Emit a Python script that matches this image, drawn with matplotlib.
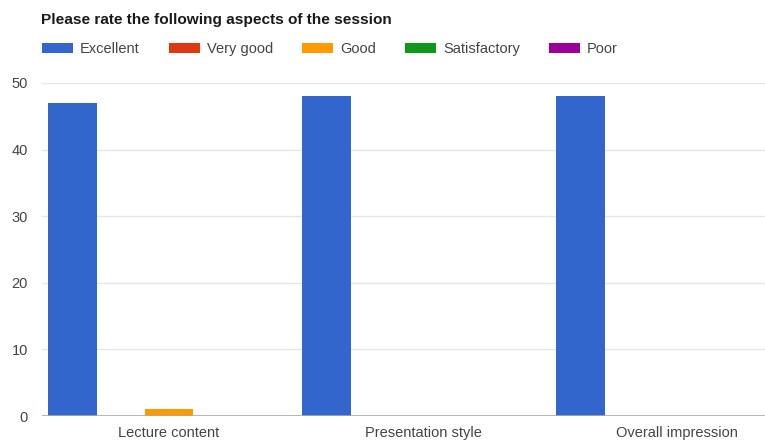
import numpy as np
import matplotlib.pyplot as plt

plt.rcParams['font.family'] = ['Liberation Sans', 'DejaVu Sans']

# Survey results
aspects = ['Lecture content', 'Presentation style', 'Overall impression']
ratings = ['Excellent', 'Very good', 'Good', 'Satisfactory', 'Poor']
excellent = [47, 48, 48]
very_good = [0, 0, 0]
good = [1, 0, 0]
satisfactory = [0, 0, 0]
poor = [0, 0, 0]
yticks = [0, 10, 20, 30, 40, 50]

series = [excellent, very_good, good, satisfactory, poor]
colors = ['#3366cc', '#dc3912', '#ff9900', '#109618', '#990099']

W, H = 765, 444
fig = plt.figure(figsize=(W / 100, H / 100), dpi=100)
ax = fig.add_axes([42 / W, (H - 416) / H, (W - 42) / W, (416 - 83) / H])

x = np.arange(len(aspects))
bw = 0.19
for i, (vals, col, name) in enumerate(zip(series, colors, ratings)):
    ax.bar(x + (i - 2) * bw, vals, width=bw, color=col, label=name, zorder=3)

ax.set_xlim(-0.5, (765 - 169) / 254)
ax.set_ylim(0, 50)
ax.set_yticks(yticks)
ax.set_xticks(x)
ax.set_xticklabels(aspects, fontsize=11)
ax.grid(axis='y', color='#e6e6e6', linewidth=1, zorder=0)
ax.axhline(0, color='#aaaaaa', linewidth=1.2, zorder=4)
for s in ax.spines.values():
    s.set_visible(False)
ax.tick_params(length=0, labelsize=10.5, colors='#444444')
ax.tick_params(axis='x', pad=7)
ax.tick_params(axis='y', pad=10)

fig.text(41 / W, 1 - 20 / H, 'Please rate the following aspects of the session',
         fontsize=11.1, fontweight='bold', color='#1a1a1a', va='center')

leg = fig.legend(loc='center left', bbox_to_anchor=(29 / W, 1 - 49 / H), ncol=5,
                 frameon=False, fontsize=10.5, handlelength=2.1, handleheight=0.7,
                 handletextpad=0.5, columnspacing=2.0, labelcolor='#444444')

plt.savefig('out.png', dpi=100)
